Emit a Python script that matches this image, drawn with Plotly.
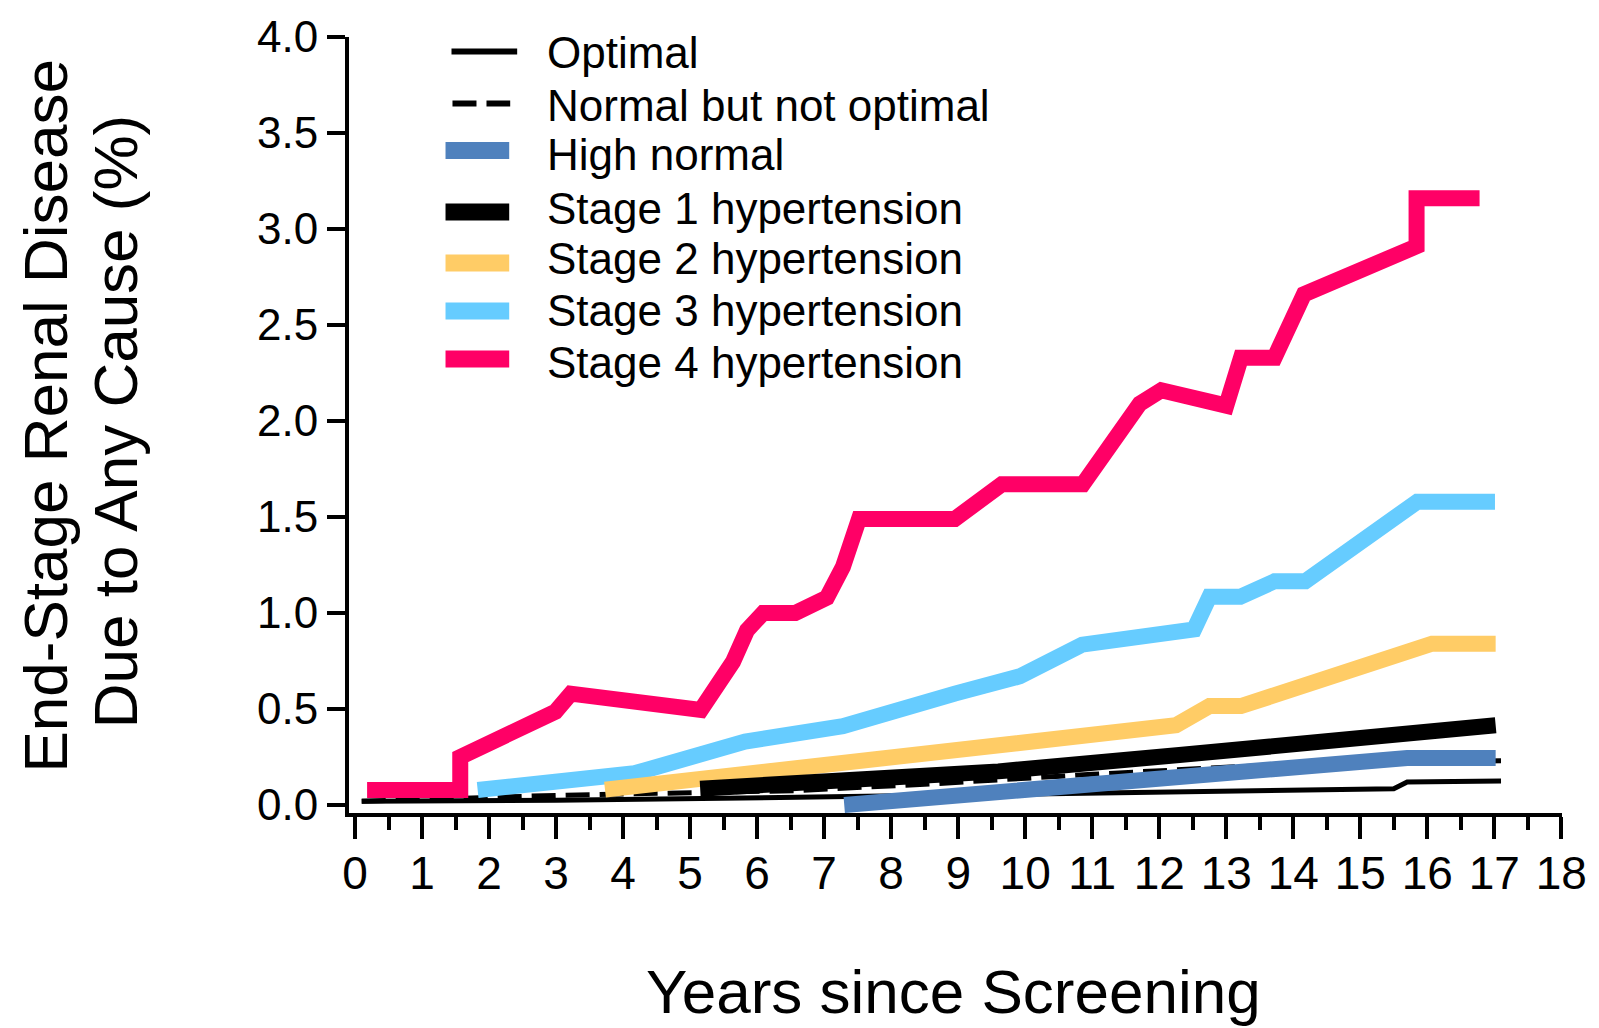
import plotly.graph_objects as go

# ---------------- data ----------------
years_optimal = [0.1, 3.0, 6.6, 9.6, 12.0, 13.6, 15.5, 15.7, 17.1]
esrd_optimal = [0.02, 0.025, 0.04, 0.055, 0.068, 0.076, 0.085, 0.12, 0.125]

years_normal = [0.1, 3.0, 6.6, 8.6, 11.0, 13.2, 15.0, 17.1]
esrd_normal = [0.02, 0.05, 0.075, 0.11, 0.16, 0.2, 0.22, 0.23]

years_high = [7.3, 15.7, 17.02]
esrd_high = [0.0, 0.245, 0.245]

years_s1 = [5.15, 7.3, 9.6, 12.3, 15.0, 17.02]
esrd_s1 = [0.085, 0.125, 0.175, 0.26, 0.34, 0.415]

years_s2 = [3.73, 12.25, 12.75, 13.22, 16.07, 17.02]
esrd_s2 = [0.08, 0.415, 0.515, 0.515, 0.84, 0.84]

years_s3 = [1.83, 4.17, 5.82, 7.28, 8.95, 9.92, 10.85, 12.52, 12.75, 13.21,
            13.72, 14.18, 15.85, 17.01]
esrd_s3 = [0.078, 0.165, 0.33, 0.41, 0.58, 0.67, 0.835, 0.915, 1.085, 1.085,
           1.165, 1.165, 1.58, 1.58]

years_s4 = [0.18, 1.57, 1.57, 2.99, 3.22, 5.16, 5.64, 5.85, 6.09, 6.57, 7.04,
            7.28, 7.52, 8.95, 9.65, 10.86, 11.71, 12.03, 13.0, 13.22, 13.72,
            14.16, 15.84, 15.84, 16.78]
esrd_s4 = [0.078, 0.078, 0.25, 0.486, 0.58, 0.495, 0.746, 0.91, 1.0, 1.0, 1.08,
           1.24, 1.49, 1.49, 1.67, 1.67, 2.09, 2.16, 2.08, 2.33, 2.33,
           2.66, 2.91, 3.16, 3.16]

series_names = ["Optimal", "Normal but not optimal", "High normal",
                "Stage 1 hypertension", "Stage 2 hypertension",
                "Stage 3 hypertension", "Stage 4 hypertension"]

x_tick_vals = list(range(0, 19))
y_tick_vals = [0.0, 0.5, 1.0, 1.5, 2.0, 2.5, 3.0, 3.5, 4.0]
y_tick_text = ["0.0", "0.5", "1.0", "1.5", "2.0", "2.5", "3.0", "3.5", "4.0"]

# ---------------- styles ----------------
FONT = "Liberation Sans, Arial, Helvetica, sans-serif"
DASH = "24px,10px"
styles = {
    "Optimal": dict(color="#000000", width=5, dash="solid"),
    "Normal but not optimal": dict(color="#000000", width=5, dash=DASH),
    "High normal": dict(color="#4F81BD", width=16, dash="solid"),
    "Stage 1 hypertension": dict(color="#000000", width=16, dash="solid"),
    "Stage 2 hypertension": dict(color="#FFCC66", width=16, dash="solid"),
    "Stage 3 hypertension": dict(color="#66CCFF", width=16, dash="solid"),
    "Stage 4 hypertension": dict(color="#FF0066", width=16, dash="solid"),
}
data = {
    "Optimal": (years_optimal, esrd_optimal),
    "Normal but not optimal": (years_normal, esrd_normal),
    "High normal": (years_high, esrd_high),
    "Stage 1 hypertension": (years_s1, esrd_s1),
    "Stage 2 hypertension": (years_s2, esrd_s2),
    "Stage 3 hypertension": (years_s3, esrd_s3),
    "Stage 4 hypertension": (years_s4, esrd_s4),
}

draw_order = ["Optimal", "Normal but not optimal", "Stage 4 hypertension",
              "Stage 3 hypertension", "Stage 2 hypertension",
              "Stage 1 hypertension", "High normal"]

fig = go.Figure()
for name in draw_order:
    xs, ys = data[name]
    fig.add_trace(go.Scatter(x=xs, y=ys, mode="lines", name=name,
                             line=styles[name], showlegend=False,
                             cliponaxis=False))

# ---------------- layout geometry ----------------
L, R, T, B = 349, 31, 37, 215
W, H = 1599, 1028
PW = W - L - R
PH = H - T - B


def px(X):
    return (X - L) / PW


def py(Y):
    return (H - B - Y) / PH


# custom legend (keys as shapes, labels as annotations)
legend_rows = [
    ("Optimal", 452, 518, 51.5, 52),
    ("Normal but not optimal", 453, 511, 103.5, 105),
    ("High normal", 446, 510, 150.5, 154),
    ("Stage 1 hypertension", 446, 510, 212, 208),
    ("Stage 2 hypertension", 446, 510, 263, 258),
    ("Stage 3 hypertension", 446, 510, 311, 310),
    ("Stage 4 hypertension", 446, 510, 359, 363),
]
shapes = []
annotations = []
for name, x0, x1, ysym, ytxt in legend_rows:
    st = styles[name]
    shapes.append(dict(type="line", xref="paper", yref="paper",
                       x0=px(x0), x1=px(x1), y0=py(ysym), y1=py(ysym),
                       line=dict(color=st["color"], width=st["width"] + 1,
                                 dash=st["dash"])))
    annotations.append(dict(text=name, xref="paper", yref="paper",
                            x=px(546), y=py(ytxt), xanchor="left",
                            yanchor="middle", showarrow=False,
                            font=dict(family=FONT, size=44, color="#000000")))

# axis titles
annotations.append(dict(text="End-Stage Renal Disease", xref="paper", yref="paper",
                        x=px(43), y=py(416), textangle=-90, showarrow=False,
                        xanchor="center", yanchor="middle",
                        font=dict(family=FONT, size=62, color="#000000")))
annotations.append(dict(text="Due to Any Cause (%)", xref="paper", yref="paper",
                        x=px(114), y=py(422), textangle=-90, showarrow=False,
                        xanchor="center", yanchor="middle",
                        font=dict(family=FONT, size=62, color="#000000")))
annotations.append(dict(text="Years since Screening", xref="paper", yref="paper",
                        x=px(956), y=py(991), showarrow=False,
                        xanchor="center", yanchor="middle",
                        font=dict(family=FONT, size=62, color="#000000")))

fig.update_layout(
    width=W, height=H,
    margin=dict(l=L, r=R, t=T, b=B, pad=0),
    paper_bgcolor="white", plot_bgcolor="white",
    showlegend=False,
    shapes=shapes,
    annotations=annotations,
    xaxis=dict(
        range=[-0.09, 18.01],
        tickmode="array", tickvals=x_tick_vals,
        ticktext=[str(v) for v in x_tick_vals],
        ticks="outside", ticklen=22, tickwidth=4, tickcolor="black",
        showline=True, linewidth=4, linecolor="black",
        showgrid=False, zeroline=False,
        tickfont=dict(family=FONT, size=46, color="black"),
        ticklabelstandoff=-5,
        minor=dict(ticks="outside", ticklen=13, tickwidth=4,
                   tickcolor="black", dtick=0.5, showgrid=False),
    ),
    yaxis=dict(
        range=[-0.0417, 4.0],
        tickmode="array", tickvals=y_tick_vals, ticktext=y_tick_text,
        ticks="outside", ticklen=18, tickwidth=4, tickcolor="black",
        showline=True, linewidth=4, linecolor="black",
        showgrid=False, zeroline=False,
        tickfont=dict(family=FONT, size=44, color="black"),
    ),
)

fig.write_html("out.html")
